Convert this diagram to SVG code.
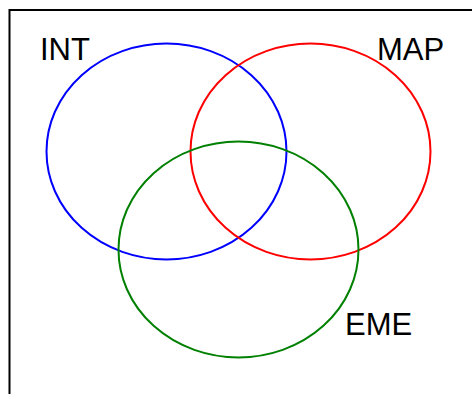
<svg xmlns="http://www.w3.org/2000/svg" width="472" height="394" viewBox="0 0 472 394">
<style>
.set{fill:none;stroke-width:2}
.lbl{font-family:"Liberation Sans",Arial,sans-serif;font-size:31px;fill:#000}
</style>
<rect width="472" height="394" fill="#fff"/>
<path d="M9.5,394 V10 H472" fill="none" stroke="#000" stroke-width="2"/>
<g id="INT">
<ellipse class="set" cx="166.5" cy="151.5" rx="120" ry="108" stroke="#0000ff"/>
<text class="lbl" x="40" y="60">INT</text>
</g>
<g id="MAP">
<ellipse class="set" cx="310.5" cy="151.5" rx="120" ry="108" stroke="#ff0000"/>
<text class="lbl" x="377" y="60">MAP</text>
</g>
<g id="EME">
<ellipse class="set" cx="238.5" cy="249.5" rx="120" ry="108" stroke="#008000"/>
<text class="lbl" x="345" y="335">EME</text>
</g>
<g id="connectors"/>
</svg>
